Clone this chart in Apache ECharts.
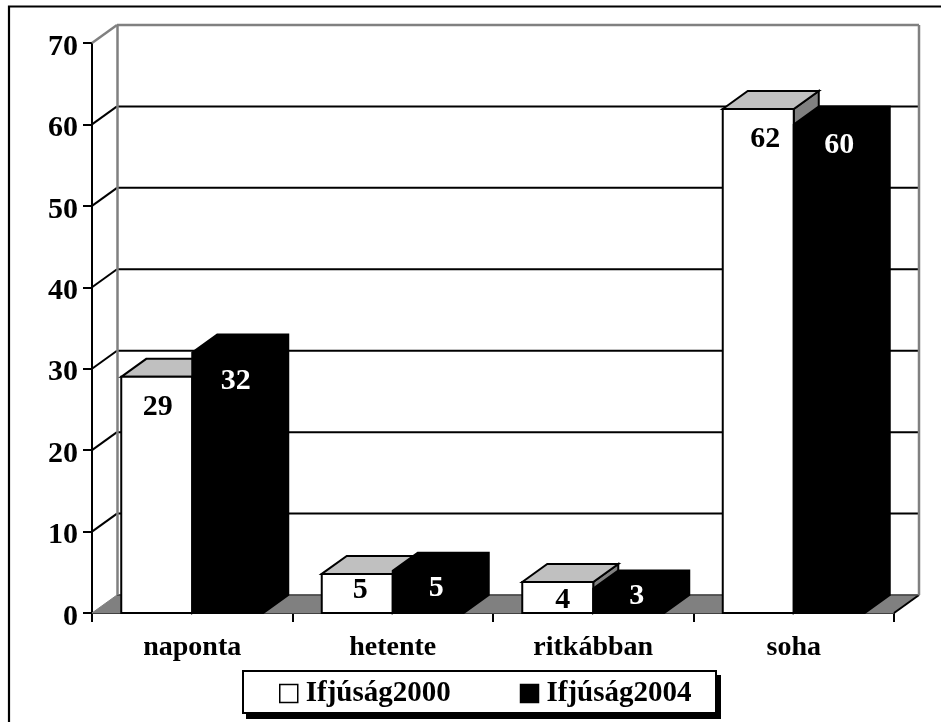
<!DOCTYPE html>
<html><head><meta charset="utf-8">
<style>html,body{margin:0;padding:0;background:#fff}#c{width:941px;height:722px}</style>
<script src="https://cdn.jsdelivr.net/npm/echarts@6/dist/echarts.min.js"></script>
</head><body><div id="c"></div>
<script>
const categories = ['naponta','hetente','ritkábban','soha'];
const ifjusag2000 = [29, 4.8, 3.8, 61.9];
const ifjusag2004 = [32, 5.2, 3, 60];
const yTicks = [0,10,20,30,40,50,60,70];
// label nudges relative to the front-top-centre of each bar (layout only)
const dx2000 = [1,3,5,7], dy2000 = [30,16,18,30];
const dx2004 = [8,8,8,10], dy2004 = [29,18,8,21];
const FONT = '"Liberation Serif","Times New Roman",serif';
const DX = 25, DY = -18, FRONT = 71;
const chart = echarts.init(document.getElementById('c'), null, {renderer:'canvas'});

function poly(points, fill, stroke, lw){
  return {type:'polygon', shape:{points}, style:{fill, stroke:stroke||fill, lineWidth:lw||2}};
}
function line(x1,y1,x2,y2,stroke,lw){
  return {type:'line', shape:{x1,y1,x2,y2}, style:{stroke, lineWidth:lw}};
}
function bar(values, offset, white, dxs, dys){
  return function(params, api){
    const i = api.value(0), v = api.value(1);
    const top = api.coord([i, v]), base = api.coord([i, 0]);
    const x0 = top[0] + offset, x1 = x0 + FRONT, y0 = top[1], y1 = base[1];
    const ch = [];
    if (white){
      ch.push(poly([[x1,y1],[x1+DX,y1+DY],[x1+DX,y0+DY],[x1,y0]],'#808080','#000'));
      ch.push(poly([[x0,y0],[x0+DX,y0+DY],[x1+DX,y0+DY],[x1,y0]],'#c0c0c0','#000'));
      ch.push(poly([[x0,y0],[x1,y0],[x1,y1],[x0,y1]],'#fff','#000'));
    } else {
      ch.push(poly([[x0,y1],[x0,y0],[x0+DX,y0+DY],[x1+DX,y0+DY],[x1+DX,y1+DY],[x1,y1]],'#000','#000'));
    }
    ch.push({type:'text', z2:10, style:{
      text:String(Math.round(values[params.dataIndex])),
      x:(x0+x1)/2+dxs[params.dataIndex], y:y0+dys[params.dataIndex],
      align:'center', verticalAlign:'middle',
      font:'bold 30px '+FONT, fill: white ? '#000' : '#fff'}});
    return {type:'group', children:ch};
  };
}
function wallItem(params, api){
  const v = api.value(0);
  const p = api.coord([0, v]);
  const xL = params.coordSys.x, xR = xL + params.coordSys.width;
  const y = p[1], ch = [];
  const isTop = v === yTicks[yTicks.length-1];
  const isZero = v === 0;
  if (isZero){
    ch.push(poly([[xL,y],[xL+DX,y+DY],[xR+DX,y+DY],[xR,y]],'#808080','#808080',1));
    ch.push(line(xR,y,xR+DX,y+DY,'#000',2));
  }
  if (isTop){
    const b = api.coord([0,0])[1];
    ch.push(line(xL+DX+0.5,y+DY,xL+DX+0.5,b+DY,'#808080',2.5));
    ch.push(line(xR+DX,y+DY,xR+DX,b+DY,'#808080',2.5));
    ch.push(line(xL+DX,y+DY,xR+DX,y+DY,'#808080',2.5));
    ch.push(line(xL,y,xL+DX,y+DY,'#808080',2.5));
  } else {
    ch.push(line(xL+DX,y+DY,xR+DX,y+DY,isZero?'#404040':'#000',isZero?1.5:2));
    if(!isZero) ch.push(line(xL,y,xL+DX,y+DY,'#000',2));
  }
  return {type:'group', children:ch};
}
chart.setOption({
  animation:false,
  backgroundColor:'#fff',
  graphic:[
    {type:'rect', z:0, silent:true,
      shape:{x:9,y:6.5,width:940,height:730},
      style:{fill:'none',stroke:'#000',lineWidth:2.2}},
    {type:'rect', z:3, silent:true,
      shape:{x:246,y:675,width:475,height:44},
      style:{fill:'#000'}},
    {type:'rect', z:3, silent:true,
      shape:{x:243,y:671,width:473,height:42},
      style:{fill:'#fff',stroke:'#000',lineWidth:2}}
  ],
  grid:{left:92,right:47,top:43,bottom:109,containLabel:false},
  legend:{
    left:279, top:679,
    padding:0, itemGap:69, itemWidth:18, itemHeight:18,
    textStyle:{fontFamily:FONT,fontWeight:'bold',fontSize:29,color:'#000',padding:[0,0,0,3]},
    data:[
      {name:'Ifjúság2000',icon:'rect',itemStyle:{color:'#fff',borderColor:'#000',borderWidth:1.5}},
      {name:'Ifjúság2004',icon:'rect',itemStyle:{color:'#000',borderColor:'#000',borderWidth:1.5}}
    ]
  },
  xAxis:{type:'category',data:categories,boundaryGap:true,
    axisLine:{onZero:false,lineStyle:{color:'#000',width:2}},
    axisTick:{show:true,alignWithLabel:false,length:9,lineStyle:{color:'#000',width:2}},
    axisLabel:{margin:21,fontFamily:FONT,fontWeight:'bold',fontSize:28,color:'#000',interval:0},
    splitLine:{show:false}},
  yAxis:{type:'value',min:0,max:70,interval:10,
    axisLine:{show:true,lineStyle:{color:'#000',width:2}},
    axisTick:{show:true,length:9,lineStyle:{color:'#000',width:2}},
    axisLabel:{margin:14,verticalAlign:'top',lineHeight:8,fontFamily:FONT,fontWeight:'bold',fontSize:30,color:'#000'},
    splitLine:{show:false}},
  series:[
    {type:'custom',name:'walls',silent:true,z:1,clip:false,
      coordinateSystem:'cartesian2d',
      encode:{y:0},data:yTicks.map(v=>[v]),renderItem:wallItem},
    {type:'custom',name:'Ifjúság2000',z:2,clip:false,silent:true,
      encode:{x:0,y:1},data:ifjusag2000.map((v,i)=>[i,v]),
      itemStyle:{color:'#fff'},
      renderItem:bar(ifjusag2000,-FRONT,true,dx2000,dy2000)},
    {type:'custom',name:'Ifjúság2004',z:3,clip:false,silent:true,
      encode:{x:0,y:1},data:ifjusag2004.map((v,i)=>[i,v]),
      itemStyle:{color:'#000'},
      renderItem:bar(ifjusag2004,0,false,dx2004,dy2004)}
  ]
});
</script></body></html>
